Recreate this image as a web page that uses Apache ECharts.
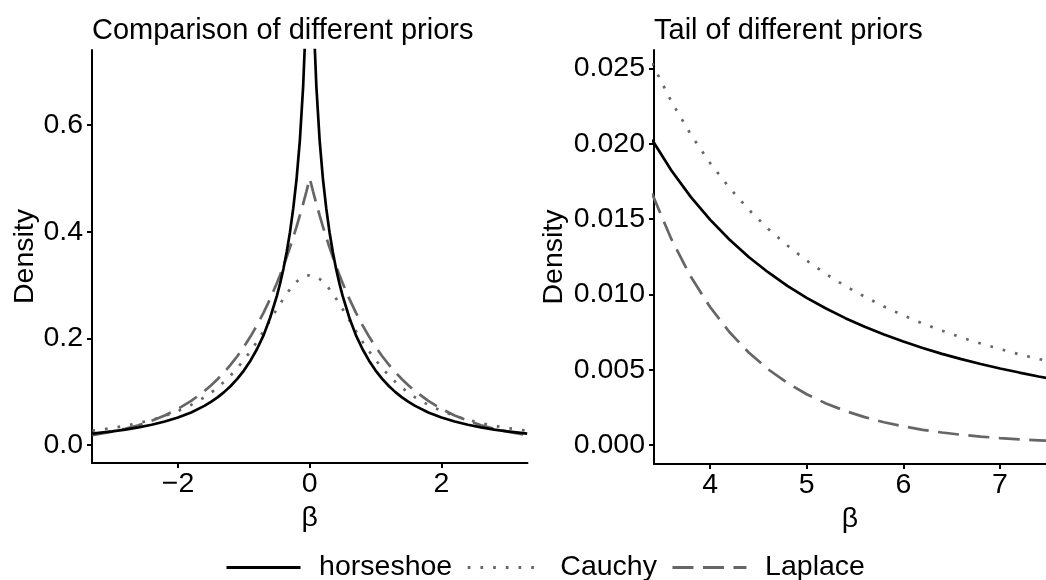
<!DOCTYPE html>
<html>
<head>
<meta charset="utf-8">
<script src="https://cdn.jsdelivr.net/npm/echarts@6/dist/echarts.min.js"></script>
<style>
  html, body { margin: 0; padding: 0; background: #ffffff; }
  #chart { width: 1046px; height: 580px; }
</style>
</head>
<body>
<div id="chart"></div>
<script>
// Prior densities over beta, full view
const leftBeta = [-3.3,-3.0,-2.8,-2.6,-2.4,-2.2,-2.0,-1.8,-1.6,-1.5,-1.4,-1.3,-1.2,-1.1,-1.0,-0.9,-0.8,-0.7,-0.6,-0.5,-0.45,-0.4,-0.35,-0.3,-0.25,-0.2,-0.15,-0.1,-0.07,-0.05,
  0,
  0.05,0.07,0.1,0.15,0.2,0.25,0.3,0.35,0.4,0.45,0.5,0.6,0.7,0.8,0.9,1.0,1.1,1.2,1.3,1.4,1.5,1.6,1.8,2.0,2.2,2.4,2.6,2.8,3.0,3.3];
const leftHorseshoe = [0.0214,0.0255,0.0289,0.0329,0.0379,0.0439,0.0515,0.0610,0.0733,0.0808,0.0893,0.0991,0.1106,0.1239,0.1395,0.158,0.180,0.206,0.239,0.279,0.303,0.330,0.362,0.399,0.444,0.499,0.571,0.673,0.764,0.849,
  null,
  0.849,0.764,0.673,0.571,0.499,0.444,0.399,0.362,0.330,0.303,0.279,0.239,0.206,0.180,0.158,0.1395,0.1239,0.1106,0.0991,0.0893,0.0808,0.0733,0.0610,0.0515,0.0439,0.0379,0.0329,0.0289,0.0255,0.0214];
const leftCauchy = [0.0268,0.0318,0.0360,0.0410,0.0471,0.0545,0.0637,0.0751,0.0894,0.0979,0.1075,0.1183,0.1305,0.1440,0.1592,0.1759,0.1941,0.2136,0.2341,0.2546,0.2647,0.2744,0.2836,0.2920,0.2996,0.3061,0.3113,0.3152,0.3168,0.3175,
  0.3183,
  0.3175,0.3168,0.3152,0.3113,0.3061,0.2996,0.2920,0.2836,0.2744,0.2647,0.2546,0.2341,0.2136,0.1941,0.1759,0.1592,0.1440,0.1305,0.1183,0.1075,0.0979,0.0894,0.0751,0.0637,0.0545,0.0471,0.0410,0.0360,0.0318,0.0268];
const leftLaplace = [0.0184,0.0249,0.0304,0.0371,0.0454,0.0554,0.0677,0.0826,0.1009,0.1116,0.1233,0.1363,0.1506,0.1664,0.1839,0.2033,0.2247,0.2483,0.2744,0.3033,0.3188,0.3352,0.3523,0.3704,0.3894,0.4094,0.4304,0.4524,0.4662,0.4756,
  0.5,
  0.4756,0.4662,0.4524,0.4304,0.4094,0.3894,0.3704,0.3523,0.3352,0.3188,0.3033,0.2744,0.2483,0.2247,0.2033,0.1839,0.1664,0.1506,0.1363,0.1233,0.1116,0.1009,0.0826,0.0677,0.0554,0.0454,0.0371,0.0304,0.0249,0.0184];

// Tail region
const rightBeta = [3.4,3.6,3.8,4.0,4.2,4.4,4.6,4.8,5.0,5.2,5.4,5.6,5.8,6.0,6.2,6.4,6.6,6.8,7.0,7.2,7.4,7.6];
const rightHorseshoe = [0.02026,0.01822,0.01647,0.01496,0.01364,0.01248,0.01147,0.01057,0.00977,0.00906,0.00842,0.00785,0.00733,0.00687,0.00644,0.00605,0.00570,0.00538,0.00508,0.00481,0.00455,0.00432];
const rightCauchy = [0.02534,0.02280,0.02062,0.01872,0.01708,0.01563,0.01436,0.01324,0.01224,0.01135,0.01055,0.00984,0.00919,0.00860,0.00807,0.00759,0.00714,0.00674,0.00637,0.00602,0.00571,0.00542];
const rightLaplace = [0.01669,0.01366,0.01118,0.00916,0.00750,0.00614,0.00503,0.00412,0.00337,0.00276,0.00226,0.00185,0.00151,0.00124,0.00101,0.00083,0.00068,0.00056,0.00046,0.00037,0.00031,0.00025];

// Tick values
const leftBetaTicks = [-2, 0, 2];
const leftDensityTicks = [0, 0.2, 0.4, 0.6];
const rightBetaTicks = [4, 5, 6, 7];
const rightDensityTicks = [0, 0.005, 0.010, 0.015, 0.020, 0.025];

const seriesNames = ['horseshoe', 'Cauchy', 'Laplace'];
const panelTitles = ['Comparison of different priors', 'Tail of different priors'];

const FONT = '"Liberation Sans", Arial, Helvetica, sans-serif';
const FS = 28.5;

const pairs = (xs, ys) => xs.map((x, i) => [x, ys[i]]);
const minusFmt = v => String(v).replace('-', '\u2212');

const styles = [
  { color: '#000000', width: 2.7, type: 'solid' },
  { color: '#666666', width: 2.7, type: [2.7, 10] },
  { color: '#666666', width: 2.7, type: [21, 9.5] }
];

function makeSeries(gridIdx, ys) {
  return ys.map((arr, k) => ({
    name: seriesNames[k],
    type: 'line',
    xAxisIndex: gridIdx,
    yAxisIndex: gridIdx,
    data: pairs(gridIdx === 0 ? leftBeta : rightBeta, arr),
    showSymbol: false,
    symbol: 'none',
    clip: true,
    connectNulls: false,
    lineStyle: { color: styles[k].color, width: styles[k].width, type: styles[k].type, cap: 'butt' },
    itemStyle: { color: styles[k].color },
    emphasis: { disabled: true },
    z: 3 - k
  }));
}

function xAxis(gridIdx, min, max, ticks) {
  return {
    type: 'value', gridIndex: gridIdx, min: min, max: max,
    name: 'β', nameLocation: 'middle', nameGap: 36,
    nameTextStyle: { fontFamily: FONT, fontSize: FS, color: '#000' },
    axisLine: { show: true, onZero: false, lineStyle: { color: '#000', width: 2 } },
    axisTick: { show: true, length: 5, lineStyle: { color: '#000', width: 2 }, customValues: ticks },
    axisLabel: { fontFamily: FONT, fontSize: FS, color: '#000', margin: 7, customValues: ticks, formatter: minusFmt },
    splitLine: { show: false }
  };
}

function yAxis(gridIdx, min, max, ticks, digits, gap) {
  return {
    type: 'value', gridIndex: gridIdx, min: min, max: max,
    name: 'Density', nameLocation: 'middle', nameRotate: 90, nameGap: gap,
    nameTextStyle: { fontFamily: FONT, fontSize: FS, color: '#000' },
    axisLine: { show: true, onZero: false, lineStyle: { color: '#000', width: 2 } },
    axisTick: { show: true, length: 5, lineStyle: { color: '#000', width: 2 }, customValues: ticks },
    axisLabel: { fontFamily: FONT, fontSize: FS, color: '#000', margin: 9, customValues: ticks,
                 formatter: v => Number(v).toFixed(digits) },
    splitLine: { show: false }
  };
}

const chart = echarts.init(document.getElementById('chart'), null, { renderer: 'canvas' });
chart.setOption({
  animation: false,
  backgroundColor: '#ffffff',
  title: [
    { text: panelTitles[0], left: 92, top: 16, padding: 0,
      textStyle: { fontFamily: FONT, fontSize: 29, fontWeight: 'normal', color: '#000' } },
    { text: panelTitles[1], left: 654, top: 16, padding: 0,
      textStyle: { fontFamily: FONT, fontSize: 29, fontWeight: 'normal', color: '#000' } }
  ],
  legend: {
    data: seriesNames,
    left: 220, top: 548,
    itemWidth: 74, itemHeight: 14, itemGap: 14,
    itemStyle: { opacity: 0 },
    lineStyle: { width: 3 },
    formatter: name => ' \u2009' + name,
    textStyle: { fontFamily: FONT, fontSize: FS, color: '#000' },
    selectedMode: false
  },
  grid: [
    { left: 92, top: 50, width: 435.5, height: 413, containLabel: false },
    { left: 654, top: 50, right: 0, height: 414, containLabel: false }
  ],
  xAxis: [
    xAxis(0, -3.305, 3.305, leftBetaTicks),
    xAxis(1, 3.42, 7.476, rightBetaTicks)
  ],
  yAxis: [
    yAxis(0, -0.0338, 0.7406, leftDensityTicks, 1, 52),
    yAxis(1, -0.00126, 0.02622, rightDensityTicks, 3, 85)
  ],
  series: [].concat(
    makeSeries(0, [leftHorseshoe, leftCauchy, leftLaplace]),
    makeSeries(1, [rightHorseshoe, rightCauchy, rightLaplace])
  )
});
</script>
</body>
</html>
